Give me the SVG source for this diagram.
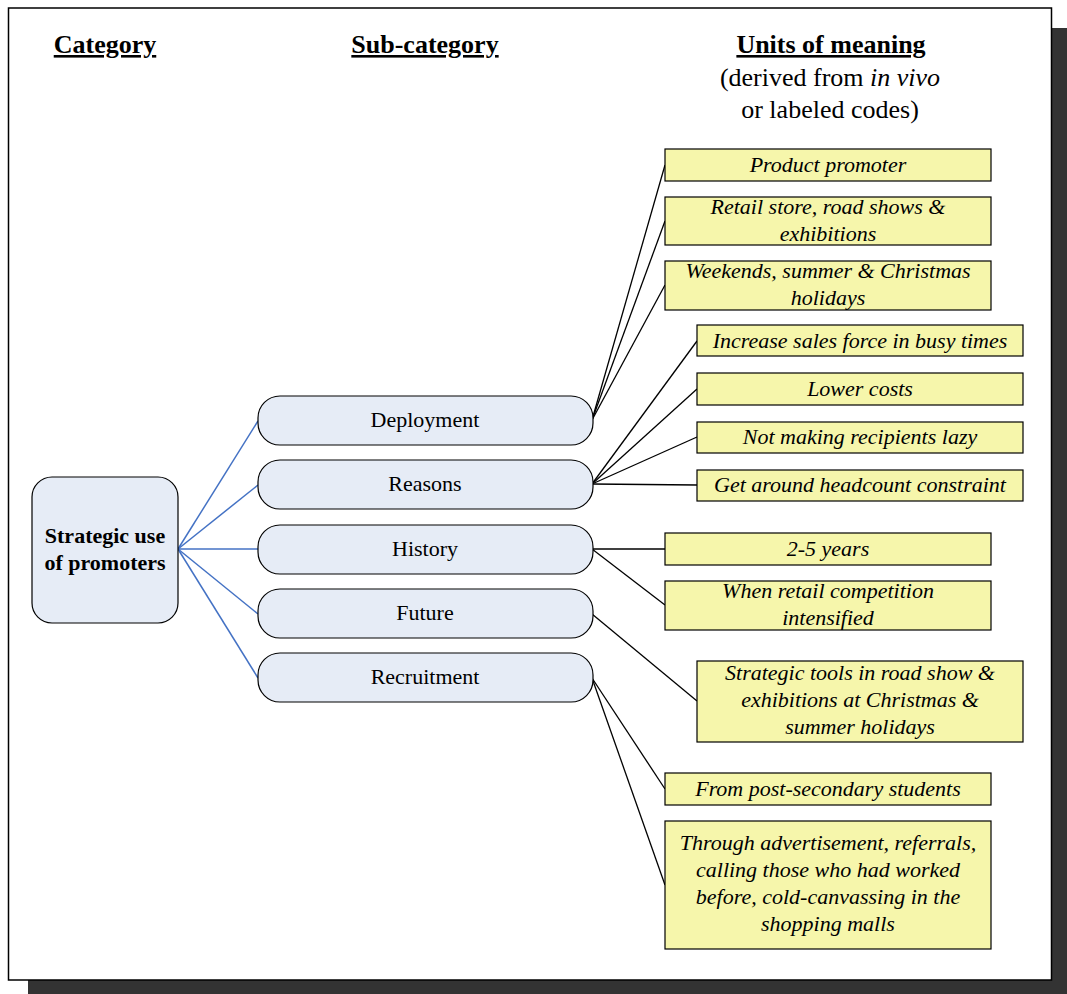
<svg xmlns="http://www.w3.org/2000/svg" width="1067" height="994" viewBox="0 0 1067 994">
<style>
text{font-family:"Liberation Serif","Times New Roman",serif;fill:#000;text-anchor:middle}
.hd{font-size:26px;font-weight:bold;text-decoration:underline}
.hs{font-size:26px}
.cat{font-size:22px;font-weight:bold}
.sub{font-size:22px}
.u{font-size:22px;font-style:italic}
.subbox{fill:#E6ECF6;stroke:#000;stroke-width:1.2}
.catbox{fill:#E6ECF6;stroke:#000;stroke-width:1.2}
.ybox{fill:#F6F6AB;stroke:#000;stroke-width:1.2}
.blue{stroke:#4472C4;stroke-width:1.5;fill:none}
.blk{stroke:#000;stroke-width:1.3;fill:none}
</style>
<rect x="28" y="28" width="1039" height="966" fill="#333333"/>
<rect x="8.5" y="8" width="1043" height="972" fill="#FFFFFF" stroke="#000" stroke-width="1.5"/>

<g id="headers">
<text class="hd" x="105" y="53">Category</text>
<text class="hd" x="425" y="53">Sub-category</text>
<text class="hd" x="831" y="53">Units of meaning</text>
<text class="hs" x="830" y="86">(derived from <tspan font-style="italic">in vivo</tspan></text>
<text class="hs" x="830" y="118">or labeled codes)</text>
</g>

<g id="connectors">
<line class="blue" x1="178" y1="549" x2="258" y2="421"/>
<line class="blue" x1="178" y1="549" x2="258" y2="485"/>
<line class="blue" x1="178" y1="549" x2="258" y2="549"/>
<line class="blue" x1="178" y1="549" x2="258" y2="614"/>
<line class="blue" x1="178" y1="549" x2="258" y2="678"/>
<line class="blk" x1="592" y1="420" x2="665" y2="165"/>
<line class="blk" x1="592" y1="420" x2="665" y2="221"/>
<line class="blk" x1="592" y1="420" x2="665" y2="285"/>
<line class="blk" x1="592" y1="484" x2="697" y2="341"/>
<line class="blk" x1="592" y1="484" x2="697" y2="389"/>
<line class="blk" x1="592" y1="484" x2="697" y2="437"/>
<line class="blk" x1="592" y1="484" x2="697" y2="485"/>
<line class="blk" x1="592" y1="549" x2="665" y2="549"/>
<line class="blk" x1="592" y1="549" x2="665" y2="605"/>
<line class="blk" x1="592" y1="614" x2="697" y2="701"/>
<line class="blk" x1="592" y1="678" x2="665" y2="789"/>
<line class="blk" x1="592" y1="678" x2="665" y2="885"/>
</g>

<g id="cat-strategic">
<rect class="catbox" x="32" y="477" width="146" height="146" rx="20"/>
<text class="cat" x="105" y="543">Strategic use</text>
<text class="cat" x="105" y="570">of promoters</text>
</g>

<g id="sub-deployment">
<rect class="subbox" x="258" y="396" width="335" height="49" rx="22"/>
<text class="sub" x="425" y="427">Deployment</text>
</g>
<g id="sub-reasons">
<rect class="subbox" x="258" y="460" width="335" height="49" rx="22"/>
<text class="sub" x="425" y="491">Reasons</text>
</g>
<g id="sub-history">
<rect class="subbox" x="258" y="525" width="335" height="49" rx="22"/>
<text class="sub" x="425" y="556">History</text>
</g>
<g id="sub-future">
<rect class="subbox" x="258" y="589" width="335" height="49" rx="22"/>
<text class="sub" x="425" y="620">Future</text>
</g>
<g id="sub-recruitment">
<rect class="subbox" x="258" y="653" width="335" height="49" rx="22"/>
<text class="sub" x="425" y="684">Recruitment</text>
</g>

<g id="u-product">
<rect class="ybox" x="665" y="149" width="326" height="32"/>
<text class="u" x="828" y="172">Product promoter</text>
</g>
<g id="u-retail">
<rect class="ybox" x="665" y="197" width="326" height="48"/>
<text class="u" x="828" y="214">Retail store, road shows &amp;</text>
<text class="u" x="828" y="241">exhibitions</text>
</g>
<g id="u-weekends">
<rect class="ybox" x="665" y="261" width="326" height="49"/>
<text class="u" x="828" y="278">Weekends, summer &amp; Christmas</text>
<text class="u" x="828" y="305">holidays</text>
</g>
<g id="u-increase">
<rect class="ybox" x="697" y="325" width="326" height="31"/>
<text class="u" x="860" y="348">Increase sales force in busy times</text>
</g>
<g id="u-lower">
<rect class="ybox" x="697" y="373" width="326" height="32"/>
<text class="u" x="860" y="396">Lower costs</text>
</g>
<g id="u-lazy">
<rect class="ybox" x="697" y="422" width="326" height="31"/>
<text class="u" x="860" y="444">Not making recipients lazy</text>
</g>
<g id="u-headcount">
<rect class="ybox" x="697" y="470" width="326" height="31"/>
<text class="u" x="860" y="492">Get around headcount constraint</text>
</g>
<g id="u-years">
<rect class="ybox" x="665" y="533" width="326" height="32"/>
<text class="u" x="828" y="556">2-5 years</text>
</g>
<g id="u-competition">
<rect class="ybox" x="665" y="581" width="326" height="49"/>
<text class="u" x="828" y="598">When retail competition</text>
<text class="u" x="828" y="625">intensified</text>
</g>
<g id="u-tools">
<rect class="ybox" x="697" y="661" width="326" height="81"/>
<text class="u" x="860" y="680">Strategic tools in road show &amp;</text>
<text class="u" x="860" y="707">exhibitions at Christmas &amp;</text>
<text class="u" x="860" y="734">summer holidays</text>
</g>
<g id="u-students">
<rect class="ybox" x="665" y="773" width="326" height="32"/>
<text class="u" x="828" y="796">From post-secondary students</text>
</g>
<g id="u-through">
<rect class="ybox" x="665" y="821" width="326" height="128"/>
<text class="u" x="828" y="850">Through advertisement, referrals,</text>
<text class="u" x="828" y="877">calling those who had worked</text>
<text class="u" x="828" y="904">before, cold-canvassing in the</text>
<text class="u" x="828" y="931">shopping malls</text>
</g>
</svg>
